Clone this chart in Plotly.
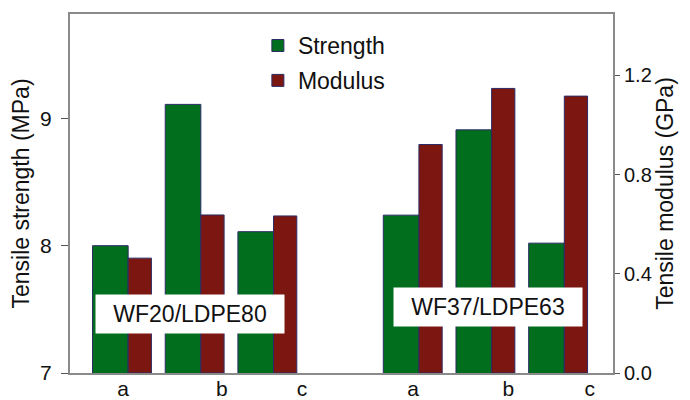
import plotly.graph_objects as go

# ---- data ----
categories = ['a', 'b', 'c', 'a', 'b', 'c']
groups = ['WF20/LDPE80', 'WF37/LDPE63']
positions = [0, 1, 2, 4, 5, 6]
strength = [8.00, 9.11, 8.11, 8.24, 8.91, 8.02]      # MPa, left axis
modulus = [0.463, 0.637, 0.633, 0.921, 1.147, 1.116]  # GPa, right axis
tick_positions = [-0.07, 1.29, 2.39, 3.92, 5.23, 6.35]
group_label_x = [0.85, 4.95]
group_label_y = [7.46, 7.52]
left_ticks = [7, 8, 9]
right_ticks = [0.0, 0.4, 0.8, 1.2]

FONT = 'Liberation Sans, Arial, sans-serif'
AXIS = '#8a8a8a'
OUTLINE = '#2b2b66'

fig = go.Figure()
fig.add_trace(go.Bar(
    x=positions, y=strength, name='Strength',
    offset=-0.49, width=0.49,
    marker=dict(color='#006e1c', line=dict(color=OUTLINE, width=1)),
    legendgroup='s',
))
fig.add_trace(go.Bar(
    x=positions, y=modulus, name='Modulus', yaxis='y2',
    offset=0.0, width=0.32,
    marker=dict(color='#7c1610', line=dict(color=OUTLINE, width=1)),
    legendgroup='m',
))

for gx, gy, gt in zip(group_label_x, group_label_y, groups):
    fig.add_annotation(
        x=gx, y=gy, xref='x', yref='y', text=gt, showarrow=False,
        font=dict(family=FONT, size=23, color='#111'),
        bgcolor='white', width=180, height=30, borderpad=4,
    )

# the page body adds an 8px offset; the figure is sized to fit the window
fig.update_layout(
    width=682, height=392,
    margin=dict(l=62, r=77, t=6, b=27, autoexpand=False),
    paper_bgcolor='white', plot_bgcolor='white',
    barmode='overlay',
    font=dict(family=FONT, color='#111'),
    legend=dict(
        x=0.346, y=0.972, xanchor='left', yanchor='top',
        font=dict(family=FONT, size=23, color='#111'),
        bgcolor='rgba(0,0,0,0)', traceorder='grouped', tracegroupgap=2,
    ),
    xaxis=dict(
        range=[-0.80, 6.67], tickvals=tick_positions, ticktext=categories,
        showline=True, linecolor=AXIS, linewidth=2, mirror=True,
        ticks='', showgrid=False, zeroline=False, automargin=False,
        ticklabelstandoff=-4,
        tickfont=dict(size=21),
    ),
    yaxis=dict(
        range=[7, 9.82], tickvals=left_ticks,
        showline=True, linecolor=AXIS, linewidth=2,
        ticks='outside', ticklen=7, tickcolor='#555', tickwidth=1,
        ticklabelstandoff=5,
        showgrid=False, zeroline=False, tickfont=dict(size=21), automargin=False,
        title=dict(text='Tensile strength (MPa)', font=dict(size=23), standoff=10),
    ),
    yaxis2=dict(
        overlaying='y', side='right', range=[0, 1.447],
        tickvals=right_ticks, tickformat='.1f',
        showline=True, linecolor=AXIS, linewidth=2,
        ticks='outside', ticklen=5, tickcolor='#555', tickwidth=1,
        showgrid=False, zeroline=False, tickfont=dict(size=20), automargin=False,
        title=dict(text='Tensile modulus (GPa)', font=dict(size=23), standoff=4),
    ),
)

fig.write_html('out.html')
